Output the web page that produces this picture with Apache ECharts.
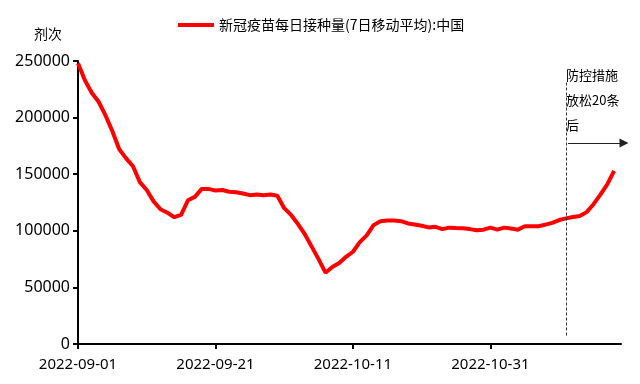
<!DOCTYPE html>
<html><head><meta charset="utf-8">
<script src="https://cdn.jsdelivr.net/npm/echarts@6/dist/echarts.min.js"></script>
<style>html,body{margin:0;padding:0;background:#fff}#c{width:640px;height:384px}</style>
</head><body><div id="c"></div>
<script>
// ---- data ----
const startDate = '2022-09-01';           // day index 0
const seriesName = '新冠疫苗每日接种量(7日移动平均):中国';
const yAxisName = '剂次';
// daily 7-day moving average, 2022-09-01 .. 2022-11-18
const values = [
  248000, 233000, 222000, 214000, 202000, 188000, 172000, 164000, 157000, 143000,
  136000, 126000, 119000, 116000, 112000, 114000, 127000, 130000, 137000, 137000,
  135500, 136000, 134500, 134000, 133000, 131500, 132000, 131500, 132000, 131000,
  120000, 114000, 106000, 97000, 86000, 75000, 63000, 68000, 71500, 77000,
  81500, 90000, 96000, 105000, 108500, 109000, 109000, 108500, 106500, 105500,
  104500, 103000, 103500, 101500, 102800, 102500, 102300, 101500, 100500, 101000,
  102800, 101000, 102800, 102000, 101000, 104000, 104000, 104000, 105500, 107000,
  109500, 111000, 112200, 113000, 116500, 123500, 132000, 141000, 153000
];
const xTickDays = [0, 20, 40, 60];        // 2022-09-01, 09-21, 10-11, 10-31
const yMin = 0, yMax = 250000, yInterval = 50000;
const eventDay = 71;                      // 2022-11-11
const annotationLines = ['防控措施', '放松20条', '后'];

// ---- helpers ----
const base = Date.UTC(2022, 8, 1);
function dayLabel(d) {
  return new Date(base + Math.round(d) * 86400000).toISOString().slice(0, 10);
}
const seriesData = values.map((v, i) => [i, v]);

const chart = echarts.init(document.getElementById('c'), null, {renderer: 'canvas'});
const cjk = '"Noto Sans CJK SC", "Noto Sans", sans-serif';
chart.setOption({
  animation: false,
  backgroundColor: '#fff',
  textStyle: {fontFamily: cjk, color: '#000'},
  grid: {left: 78, right: 19, top: 61, bottom: 40},
  legend: {
    left: 173, top: 13,
    itemWidth: 36, itemHeight: 14,
    textStyle: {fontSize: 14, color: '#000', fontFamily: cjk},
    data: [{name: seriesName, icon: 'path://M0,0 L36,0 L36,4 L0,4 Z'}]
  },
  xAxis: {
    type: 'value',
    min: 0, max: 79, interval: 20,
    splitLine: {show: false},
    axisLine: {show: true, lineStyle: {color: '#000', width: 2}},
    axisTick: {show: true, customValues: xTickDays, length: 5, lineStyle: {color: '#000', width: 2}},
    axisLabel: {customValues: xTickDays, formatter: v => dayLabel(v), fontSize: 15, color: '#000',
      fontFamily: '"Noto Sans", sans-serif', margin: 13}
  },
  yAxis: {
    type: 'value',
    min: yMin, max: yMax, interval: yInterval,
    name: yAxisName,
    nameLocation: 'end',
    nameGap: 20,
    nameTextStyle: {fontSize: 14, color: '#000', align: 'right', padding: [0, 16, 0, 0], fontFamily: cjk},
    splitLine: {show: false},
    axisLine: {show: true, lineStyle: {color: '#000', width: 2}},
    axisTick: {show: true, length: 5, lineStyle: {color: '#000', width: 2}},
    axisLabel: {formatter: v => String(v), fontSize: 16, color: '#000', fontFamily: '"Noto Sans", sans-serif', margin: 8}
  },
  series: [{
    name: seriesName,
    type: 'line',
    data: seriesData,
    symbol: 'none',
    lineStyle: {color: '#ff0000', width: 4},
    itemStyle: {color: '#ff0000'},
    markLine: {
      silent: true,
      symbol: ['none', 'none'],
      label: {show: false},
      data: [
        [
          {coord: [eventDay, 231000], lineStyle: {type: [3, 2], color: '#333', width: 1}},
          {coord: [eventDay, 6000]}
        ],
        [
          {coord: [eventDay + 0.3, 177500], symbol: 'none', lineStyle: {type: 'solid', color: '#222', width: 1}},
          {coord: [79, 177500], symbol: 'triangle', symbolSize: [9, 9], symbolOffset: [0, -3]}
        ]
      ]
    },
    markPoint: {
      silent: true,
      symbol: 'circle', symbolSize: 0,
      data: [{
        coord: [eventDay, 215300],
        label: {
          show: true, position: 'right', distance: 0, align: 'left',
          formatter: annotationLines.join('\n'),
          fontSize: 13, lineHeight: 25, color: '#000', fontFamily: cjk
        }
      }]
    }
  }]
});
</script></body></html>
